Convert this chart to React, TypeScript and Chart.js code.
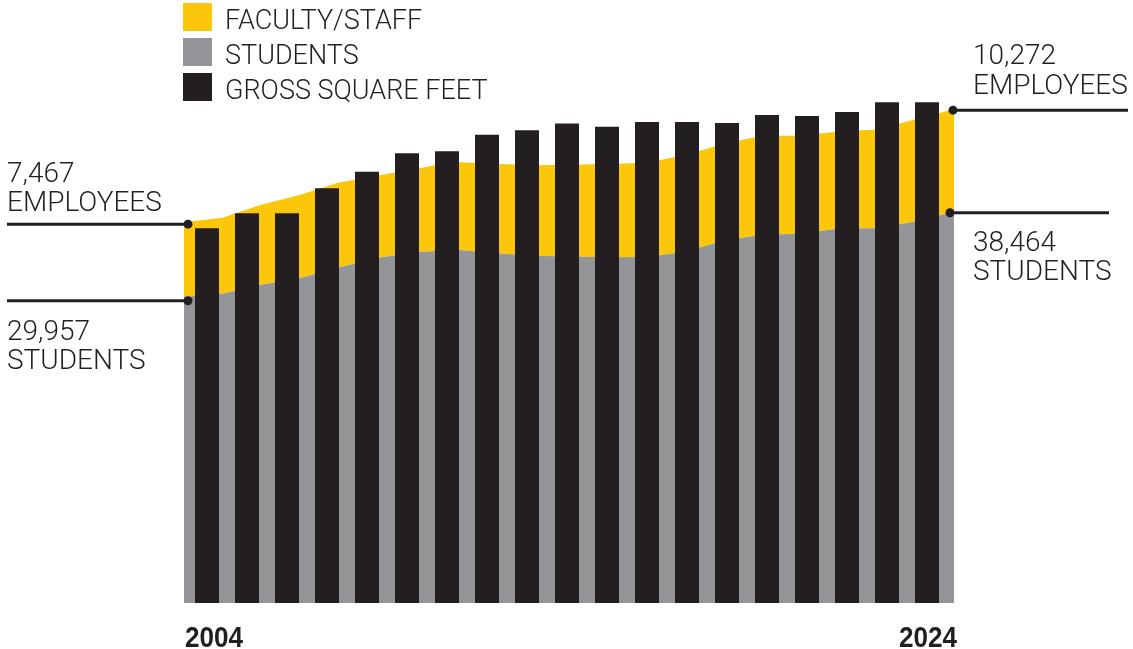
import React, { useEffect, useRef } from "react";
import { Chart, registerables } from "chart.js";

Chart.register(...registerables);

// ---- Data ----
const years = [2004, 2005, 2006, 2007, 2008, 2009, 2010, 2011, 2012, 2013, 2014, 2015, 2016, 2017, 2018, 2019, 2020, 2021, 2022, 2023, 2024];
const students = [29957, 30260, 31160, 31810, 32870, 33840, 34390, 34690, 34360, 34070, 33990, 33920, 33940, 34440, 35550, 36170, 36260, 36780, 36820, 37480, 38464];
const employees = [7467, 7610, 8000, 8320, 8490, 8230, 8350, 8760, 8930, 9050, 9170, 9320, 9420, 9670, 9700, 9910, 9820, 9720, 9880, 10240, 10272];
// Gross square feet (millions)
const barYears = [2005, 2006, 2007, 2008, 2009, 2010, 2011, 2012, 2013, 2014, 2015, 2016, 2017, 2018, 2019, 2020, 2021, 2022, 2023];
const grossSqFt = [14.9, 15.5, 15.5, 16.49, 17.15, 17.88, 17.96, 18.62, 18.8, 19.07, 18.94, 19.13, 19.13, 19.09, 19.4, 19.36, 19.52, 19.91, 19.91];

const legendLabels = ["FACULTY/STAFF", "STUDENTS", "GROSS SQUARE FEET"];
const startLabels = { employees: ["7,467", "EMPLOYEES"], students: ["29,957", "STUDENTS"] };
const endLabels = { employees: ["10,272", "EMPLOYEES"], students: ["38,464", "STUDENTS"] };
const yearLabels = ["2004", "2024"];

const YELLOW = "#FCC70B";
const GRAY = "#939598";
const BLACK = "#231F20";
const TEXT = "#231F20";
const LIGHT_FONT = "300 28px Roboto, 'Noto Sans', sans-serif";
const LEGEND_FONT = "300 27px Roboto, 'Noto Sans', sans-serif";
const YEAR_FONT = "bold 29px 'Liberation Sans', Arial, sans-serif";

const overlayPlugin = {
  id: "overlay",
  afterDraw(chart: any) {
    const ctx = chart.ctx as CanvasRenderingContext2D;
    const xs = chart.scales.x;
    const ys = chart.scales.y;
    const last = years.length - 1;
    const lx = xs.getPixelForValue(years[0]);
    const rx = xs.getPixelForValue(years[last]);
    const lEmp = ys.getPixelForValue(students[0] + employees[0]) + 2;
    const lStu = ys.getPixelForValue(students[0]) + 4;
    const rEmp = ys.getPixelForValue(students[last] + employees[last]) + 1;
    const rStu = ys.getPixelForValue(students[last]) + 1;

    ctx.save();
    ctx.strokeStyle = BLACK;
    ctx.fillStyle = BLACK;
    ctx.lineWidth = 3;
    const line = (x1: number, x2: number, y: number, dotX: number) => {
      ctx.beginPath();
      ctx.moveTo(x1, y);
      ctx.lineTo(x2, y);
      ctx.stroke();
      ctx.beginPath();
      ctx.arc(dotX, y, 4.5, 0, Math.PI * 2);
      ctx.fill();
    };
    line(7, lx + 4, lEmp, lx + 4);
    line(7, lx + 4, lStu, lx + 4);
    line(rx - 1, 1128, rEmp, rx - 1);
    line(rx - 4, 1109, rStu, rx - 4);

    // annotation texts
    ctx.fillStyle = TEXT;
    ctx.font = LIGHT_FONT;
    ctx.textAlign = "left";
    ctx.textBaseline = "alphabetic";
    ctx.fillText(startLabels.employees[0], 7, 182);
    ctx.fillText(startLabels.employees[1], 7, 211);
    ctx.fillText(startLabels.students[0], 7, 340);
    ctx.fillText(startLabels.students[1], 7, 369);
    ctx.fillText(endLabels.employees[0], 973, 64);
    ctx.fillText(endLabels.employees[1], 973, 94);
    ctx.fillText(endLabels.students[0], 973, 251);
    ctx.fillText(endLabels.students[1], 973, 280);

    // year labels (condensed bold)
    ctx.font = YEAR_FONT;
    ctx.save();
    ctx.translate(lx + 1, 647);
    ctx.scale(0.9, 1);
    ctx.textAlign = "left";
    ctx.fillText(yearLabels[0], 0, 0);
    ctx.restore();
    ctx.save();
    ctx.translate(rx + 3, 647);
    ctx.scale(0.9, 1);
    ctx.textAlign = "right";
    ctx.fillText(yearLabels[1], 0, 0);
    ctx.restore();

    // legend
    const colors = [YELLOW, GRAY, BLACK];
    ctx.font = LEGEND_FONT;
    ctx.textAlign = "left";
    for (let i = 0; i < legendLabels.length; i++) {
      const top = 3 + i * 35;
      ctx.fillStyle = colors[i];
      ctx.fillRect(183, top, 29, 28);
      ctx.fillStyle = TEXT;
      ctx.fillText(legendLabels[i], 225, top + 26);
    }
    ctx.restore();
  },
};

export default function App() {
  const canvasRef = useRef<HTMLCanvasElement | null>(null);

  useEffect(() => {
    if (!canvasRef.current) return;
    const chart = new Chart(canvasRef.current, {
      type: "bar",
      data: {
        datasets: [
          {
            type: "line",
            label: "STUDENTS",
            data: years.map((yr, i) => ({ x: yr, y: students[i] })),
            xAxisID: "x",
            yAxisID: "y",
            backgroundColor: GRAY,
            borderWidth: 0,
            pointRadius: 0,
            tension: 0,
            fill: "start",
            order: 1,
          } as any,
          {
            type: "line",
            label: "FACULTY/STAFF",
            data: years.map((yr, i) => ({ x: yr, y: employees[i] })),
            xAxisID: "x",
            yAxisID: "y",
            backgroundColor: YELLOW,
            borderWidth: 0,
            pointRadius: 0,
            tension: 0,
            fill: "-1",
            order: 2,
          } as any,
          {
            type: "bar",
            label: "GROSS SQUARE FEET",
            data: barYears.map((yr, i) => ({ x: yr, y: grossSqFt[i] })),
            xAxisID: "xBar",
            yAxisID: "yBar",
            backgroundColor: BLACK,
            grouped: false,
            categoryPercentage: 1,
            barPercentage: 0.6,
            maxBarThickness: 24,
            order: 0,
          } as any,
        ],
      },
      options: {
        responsive: false,
        animation: false,
        layout: { padding: { left: 184, right: 179, top: 100, bottom: 46 } },
        plugins: { legend: { display: false }, tooltip: { enabled: false } },
        scales: {
          x: { type: "linear", min: 2004, max: 2024, offset: false, display: false },
          xBar: {
            type: "linear",
            axis: "x",
            min: 2004.425,
            max: 2023.675,
            offset: false,
            display: false,
            ticks: { count: 2 },
          },
          y: { type: "linear", stacked: true, min: -700, max: 49650, display: false },
          yBar: { type: "linear", axis: "y", min: 0, max: 20, display: false },
        },
      } as any,
      plugins: [overlayPlugin],
    });
    return () => chart.destroy();
  }, []);

  return (
    <div style={{ position: "fixed", left: 0, top: 0, width: 1133, height: 649, background: "#fff" }}>
      <canvas ref={canvasRef} width={1133} height={649} style={{ display: "block" }} />
    </div>
  );
}
